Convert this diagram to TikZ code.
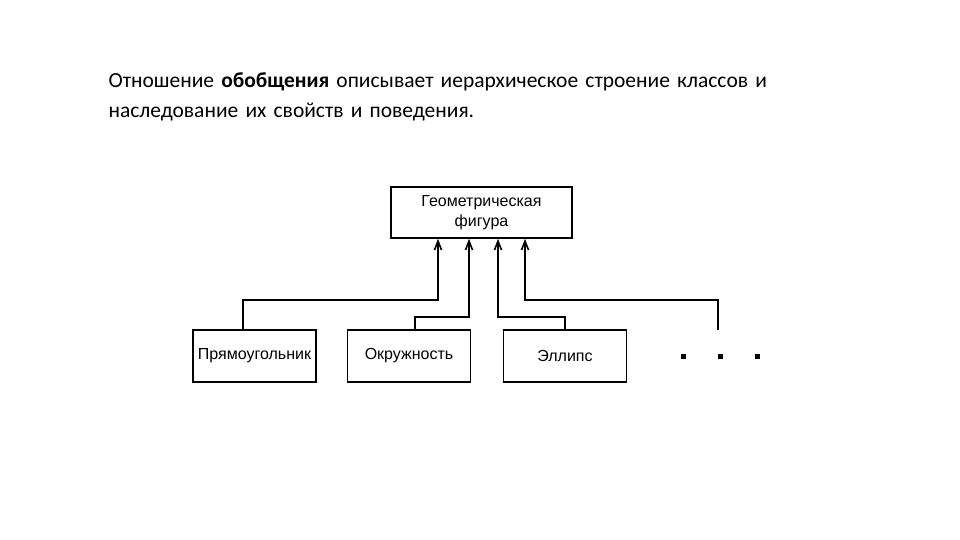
\documentclass[tikz,border=0pt]{standalone}
\usepackage{fontspec}
\setmainfont{Carlito}
\newfontfamily\diag{Liberation Sans}
\usetikzlibrary{arrows.meta}
\begin{document}
\begin{tikzpicture}[x=1pt,y=-1pt,
  cls/.style={draw,line width=1.6pt,minimum width=123pt,minimum height=52pt,inner sep=0pt,font=\diag\fontsize{16}{20}\selectfont},
  link/.style={line width=1.6pt,-{Straight Barb[length=9pt,width=7pt]}},
  dotm/.style={fill,minimum size=5pt,inner sep=0pt}]
\useasboundingbox (0,0) rectangle (960,540);
\node[anchor=base west,align=left,font=\fontsize{21.5}{30}\selectfont,text width=800pt] (t) at (105,88)
 {Отношение \textbf{обобщения} описывает иерархическое строение классов и\\наследование их свойств и поведения.};
\node[cls,minimum width=181pt,minimum height=51pt,align=center] (g) at (481.5,212.5) {Геометрическая\\фигура};
\node[cls] (p) at (254.5,356) {Прямоугольник};
\node[cls] (o) at (409,356) {Окружность};
\node[cls] (e) at (565,356) {Эллипс};
\coordinate (d) at (718,330);
\node[dotm] (d1) at (683,356) {};
\node[dotm] (d2) at (720,356) {};
\node[dotm] (d3) at (757,356) {};
\draw[link] (p.north -| 243,0) |- (438,300) -- (g.south -| 438,0);
\draw[link] (o.north -| 415,0) |- (469,317) -- (g.south -| 469,0);
\draw[link] (e.north) |- (498,317) -- (g.south -| 498,0);
\draw[link] (d) |- (525,300) -- (g.south -| 525,0);
\end{tikzpicture}
\end{document}
